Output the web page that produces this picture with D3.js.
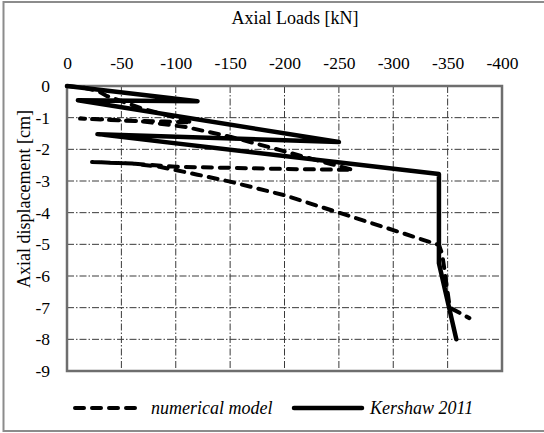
<!DOCTYPE html>
<html>
<head>
<meta charset="utf-8">
<script src="https://cdn.jsdelivr.net/npm/d3@7"></script>
<style>
  html, body { margin: 0; padding: 0; background: #fff; }
  svg text { font-family: "Liberation Serif", "Times New Roman", serif; fill: #000; }
</style>
</head>
<body>
<script>
// Axial load (kN) vs axial displacement (cm)
const xTicks = [0, -50, -100, -150, -200, -250, -300, -350, -400];
const yTicks = [0, -1, -2, -3, -4, -5, -6, -7, -8, -9];

// Numerical model (cyclic loading path)
const numLoad = [0, -15, -28, -37, -70, -95, -115, -90, -60, -30, -12, -40, -70, -110, -150, -190, -225, -263, -200, -100, -60, -23, -60, -85, -120, -150, -200, -250, -300, -342, -345, -352, -370];
const numDisp = [0, -0.05, -0.15, -0.32, -0.72, -0.95, -1.15, -1.12, -1.1, -1.05, -1.03, -1.07, -1.12, -1.3, -1.6, -1.97, -2.3, -2.65, -2.62, -2.55, -2.45, -2.4, -2.45, -2.55, -2.8, -3.02, -3.45, -4.0, -4.55, -5.02, -5.3, -7.0, -7.33];

// Kershaw 2011 measurements
const kerLoad = [0, -120, -10, -250, -28, -342, -342, -358];
const kerDisp = [0, -0.48, -0.45, -1.77, -1.52, -2.78, -5.6, -8.0];

const W = 544, H = 433;
const svg = d3.select("body").append("svg").attr("width", W).attr("height", H);

// outer frame
svg.append("rect").attr("x", 3.5).attr("y", 2).attr("width", 545).attr("height", 429)
  .attr("fill", "none").attr("stroke", "#8c8c8c").attr("stroke-width", 2);

const x = d3.scaleLinear().domain([0, -400]).range([67, 502]);
const y = d3.scaleLinear().domain([0, -9]).range([86, 371]);

// grid
const grid = svg.append("g");
grid.selectAll("line.v").data(xTicks.slice(1, -1)).join("line")
  .attr("x1", d => x(d)).attr("x2", d => x(d)).attr("y1", y(0)).attr("y2", y(-9))
  .attr("stroke", "#3a3a3a").attr("stroke-width", 1).attr("stroke-dasharray", "7,2,1.5,2");
grid.selectAll("line.h").data(yTicks.slice(1, -1)).join("line")
  .attr("x1", x(0)).attr("x2", x(-400)).attr("y1", d => y(d)).attr("y2", d => y(d))
  .attr("stroke", "#3a3a3a").attr("stroke-width", 1).attr("stroke-dasharray", "7,2,1.5,2");

// plot area border
svg.append("rect").attr("x", x(0)).attr("y", y(0))
  .attr("width", x(-400) - x(0)).attr("height", y(-9) - y(0))
  .attr("fill", "none").attr("stroke", "#6e6e6e").attr("stroke-width", 2.5);

// axes (plain hyphen for negative numbers)
const fmt = d => String(d);
const xAxis = svg.append("g").attr("transform", `translate(0,${y(0) - 17})`)
  .call(d3.axisTop(x).tickValues(xTicks).tickSize(0).tickPadding(0).tickFormat(fmt));
xAxis.select(".domain").remove();
xAxis.selectAll("text").attr("font-size", 17.5);

const yAxis = svg.append("g").attr("transform", `translate(${x(0) - 17},0)`)
  .call(d3.axisLeft(y).tickValues(yTicks).tickSize(0).tickPadding(0).tickFormat(fmt));
yAxis.select(".domain").remove();
yAxis.selectAll("text").attr("font-size", 17.5);

// titles
svg.append("text").attr("x", 295).attr("y", 24).attr("text-anchor", "middle")
  .attr("font-size", 18).text("Axial Loads [kN]");
svg.append("text").attr("transform", "translate(30,199) rotate(-90)")
  .attr("text-anchor", "middle").attr("font-size", 18).text("Axial displacement [cm]");

// series
const line = d3.line().x(d => x(d[0])).y(d => y(d[1]));
const numPts = numLoad.map((v, i) => [v, numDisp[i]]);
const kerPts = kerLoad.map((v, i) => [v, kerDisp[i]]);

svg.append("path").datum(kerPts).attr("d", line)
  .attr("fill", "none").attr("stroke", "#000").attr("stroke-width", 4.5)
  .attr("stroke-linejoin", "round").attr("stroke-linecap", "round");
svg.append("path").datum(numPts).attr("d", line)
  .attr("fill", "none").attr("stroke", "#000").attr("stroke-width", 4)
  .attr("stroke-dasharray", "9,8").attr("stroke-linecap", "round").attr("stroke-linejoin", "round");

// legend
const ly = 408;
svg.append("line").attr("x1", 75).attr("x2", 143).attr("y1", ly).attr("y2", ly)
  .attr("stroke", "#000").attr("stroke-width", 4).attr("stroke-dasharray", "9,8")
  .attr("stroke-linecap", "round");
svg.append("text").attr("x", 151).attr("y", ly + 6).attr("font-size", 18)
  .attr("font-style", "italic").text("numerical model");
svg.append("line").attr("x1", 294).attr("x2", 362).attr("y1", ly).attr("y2", ly)
  .attr("stroke", "#000").attr("stroke-width", 4.5).attr("stroke-linecap", "round");
svg.append("text").attr("x", 370).attr("y", ly + 6).attr("font-size", 18)
  .attr("font-style", "italic").text("Kershaw 2011");
</script>
</body>
</html>
